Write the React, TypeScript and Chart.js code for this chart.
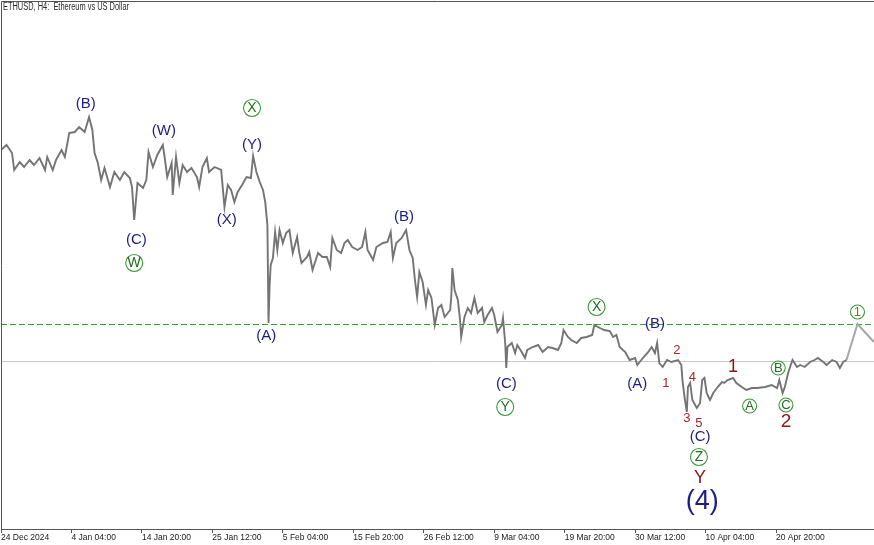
import { useEffect, useRef } from "react";
import { Chart, registerables } from "chart.js";

Chart.register(...registerables);

// H4 bar index counted from 24 Dec 2024 12:00 (6 bars per day)
const barIndex = [
  0, 5, 10, 12, 17, 21, 26, 30, 35, 40, 42, 47, 50, 55, 58, 62, 67, 71, 76, 80,
  83, 85, 88, 91, 94, 99, 103, 108, 112, 117, 119, 121, 124, 129, 132, 134, 138, 142, 147, 149,
  151, 155, 156, 159, 162, 165, 169, 173, 178, 180, 183, 187, 189, 194, 200, 203, 206, 209, 212, 215,
  219, 223, 227, 229, 232, 235, 238, 240, 242, 243, 244, 245, 247, 249, 251, 253, 256, 259, 262, 265,
  269, 271, 273, 278, 280, 283, 288, 292, 296, 299, 301, 305, 309, 312, 315, 319, 324, 328, 331, 333,
  338, 341, 347, 351, 354, 356, 359, 364, 368, 371, 374, 376, 378, 380, 383, 386, 388, 391, 394, 397,
  400, 403, 408, 409, 410, 412, 415, 417, 418, 421, 424, 427, 430, 433, 437, 439, 442, 446, 448, 451,
  455, 456, 458, 459, 460, 464, 467, 469, 473, 476, 478, 483, 488, 492, 497, 501, 506, 509, 511, 515,
  518, 523, 527, 532, 537, 539, 544, 548, 553, 556, 559, 562, 567, 571, 576, 578, 583, 588, 591, 594,
  596, 598, 601, 605, 609, 615, 618, 619, 621, 623, 624, 626, 628, 632, 635, 637, 639, 641, 644, 647,
  651, 655, 657, 660, 665, 668, 673, 677, 682, 687, 694, 700, 705, 707, 710, 712, 715, 718, 719, 723,
  726, 730, 735, 739, 742, 747, 750, 755, 759, 762, 765, 768,
];

const closePrice = [
  3481, 3521, 3457, 3321, 3385, 3345, 3401, 3361, 3417, 3321, 3425, 3321, 3401, 3481, 3425, 3617, 3625, 3665, 3625, 3745,
  3641, 3457, 3377, 3241, 3337, 3185, 3305, 3241, 3305, 3257, 3185, 2921, 3217, 3177, 3241, 3465, 3345, 3441, 3521, 3401,
  3265, 3377, 3121, 3425, 3217, 3361, 3305, 3337, 3265, 3185, 3345, 3417, 3305, 3345, 3321, 3025, 3201, 3161, 3065, 3145,
  3201, 3265, 3257, 3433, 3305, 3225, 3161, 3065, 2881, 2097, 2401, 2561, 2617, 2825, 2681, 2841, 2737, 2817, 2841, 2657,
  2785, 2657, 2577, 2625, 2665, 2521, 2657, 2625, 2625, 2545, 2777, 2681, 2657, 2737, 2761, 2705, 2681, 2705, 2825, 2681,
  2601, 2705, 2737, 2745, 2825, 2617, 2737, 2777, 2841, 2681, 2617, 2441, 2305, 2505, 2425, 2241, 2361, 2297, 2081, 2217,
  2241, 2145, 2201, 2305, 2537, 2361, 2281, 2121, 1985, 2145, 2217, 2177, 2297, 2177, 2217, 2105, 2161, 2217, 2161, 2025,
  2081, 2137, 1937, 1737, 1905, 1937, 1857, 1921, 1865, 1817, 1881, 1905, 1921, 1865, 1905, 1897, 1881, 1937, 2041, 1985,
  1961, 1937, 1977, 1985, 2001, 2081, 2057, 2041, 2033, 1985, 2001, 1905, 1865, 1801, 1817, 1761, 1817, 1865, 1905, 1857,
  1937, 1777, 1745, 1801, 1785, 1801, 1761, 1641, 1497, 1385, 1585, 1617, 1481, 1417, 1457, 1641, 1657, 1537, 1481, 1537,
  1585, 1625, 1617, 1641, 1657, 1617, 1585, 1561, 1577, 1577, 1585, 1601, 1577, 1641, 1537, 1585, 1697, 1777, 1801, 1745,
  1761, 1745, 1785, 1801, 1817, 1785, 1761, 1801, 1785, 1737, 1785, 1801,
];

const forecastIndex = [768, 778, 793];
const forecastPrice = [1801, 2089, 1945];

const tickLabels = [
  "24 Dec 2024", "4 Jan 04:00", "14 Jan 20:00", "25 Jan 12:00", "5 Feb 04:00", "15 Feb 20:00",
  "26 Feb 12:00", "9 Mar 04:00", "19 Mar 20:00", "30 Mar 12:00", "10 Apr 04:00", "20 Apr 20:00",
];
const barsPerTick = 64;

const targetLevel = 2089;
const bidLevel = 1793;

const labelText = [
  "(B)", "(W)", "X", "(Y)", "(X)", "(C)", "W", "(A)", "(B)", "(C)", "Y", "X", "(B)", "(A)",
  "2", "1", "4", "3", "5", "(C)", "Z", "Y", "(4)", "1", "A", "B", "C", "2", "1",
];
const labelBar = [
  77, 148, 228, 228, 205, 123, 121, 241, 366, 459, 458, 541, 594, 578,
  614, 604, 628, 623, 634, 635, 634, 635, 637, 665, 680, 706, 713, 713, 778,
];
const labelPrice = [
  3849, 3633, 3817, 3525, 2921, 2761, 2577, 1993, 2945, 1609, 1425, 2225, 2089, 1609,
  1881, 1617, 1665, 1337, 1297, 1185, 1025, 857, 665, 1745, 1433, 1737, 1441, 1305, 2185,
];
const labelDegree = [
  "minor", "minor", "circle", "minor", "minor", "minor", "circle", "minor", "minor", "minor", "circle", "circle", "minor", "minor",
  "sub", "sub", "sub", "sub", "sub", "minor", "circle", "red", "major", "red", "circleSmall", "circleSmall", "circleSmall", "redBig", "circleNum",
];

const styles: Record<string, any> = {
  minor: { size: 15, color: "#1c1c86" },
  major: { size: 27, color: "#1c1c86" },
  sub: { size: 13, color: "#a3282a" },
  red: { size: 18, color: "#8e1414" },
  redBig: { size: 19, color: "#8e1414" },
  circle: { size: 14, color: "#1f6f1f", ring: "#3a9a3a", r: 8.5 },
  circleSmall: { size: 13, color: "#1f6f1f", ring: "#3a9a3a", r: 7 },
  circleNum: { size: 13, color: "#7a7a10", ring: "#3a9a3a", r: 7 },
};

const FONT = '"Liberation Sans", Arial, sans-serif';

const overlay = {
  id: "overlay",
  beforeDatasetsDraw(chart: any) {
    const { ctx, chartArea: a, scales } = chart;
    const y = scales.y;
    ctx.save();
    ctx.beginPath();
    ctx.rect(a.left, a.top, a.right - a.left, a.bottom - a.top);
    ctx.clip();
    const yb = Math.round(y.getPixelForValue(bidLevel)) + 0.5;
    ctx.strokeStyle = "#c8c8c8";
    ctx.lineWidth = 1;
    ctx.beginPath();
    ctx.moveTo(a.left, yb);
    ctx.lineTo(a.right, yb);
    ctx.stroke();
    const yg = Math.round(y.getPixelForValue(targetLevel)) + 0.5;
    ctx.strokeStyle = "#3a9a3a";
    ctx.setLineDash([6, 3]);
    ctx.beginPath();
    ctx.moveTo(a.left, yg);
    ctx.lineTo(a.right, yg);
    ctx.stroke();
    ctx.restore();
  },
  afterDatasetsDraw(chart: any) {
    const { ctx, scales } = chart;
    const { x, y } = scales;
    ctx.save();
    ctx.textAlign = "center";
    ctx.textBaseline = "middle";
    for (let i = 0; i < labelText.length; i++) {
      const st = styles[labelDegree[i]];
      const px = x.getPixelForValue(labelBar[i]);
      const py = y.getPixelForValue(labelPrice[i]);
      if (st.ring) {
        ctx.beginPath();
        ctx.arc(px, py, st.r, 0, Math.PI * 2);
        ctx.strokeStyle = st.ring;
        ctx.lineWidth = 1.1;
        ctx.stroke();
      }
      ctx.font = `${st.size}px ${FONT}`;
      ctx.fillStyle = st.color;
      ctx.fillText(labelText[i], px, py + (st.ring ? 0.5 : 0));
    }
    ctx.restore();
  },
  afterDraw(chart: any) {
    const { ctx, chartArea: a } = chart;
    ctx.save();
    ctx.strokeStyle = "#555555";
    ctx.lineWidth = 1;
    ctx.beginPath();
    ctx.moveTo(a.left + 0.5, a.bottom);
    ctx.lineTo(a.left + 0.5, a.top + 0.5);
    ctx.lineTo(chart.width, a.top + 0.5);
    ctx.stroke();
    ctx.font = `10px ${FONT}`;
    ctx.fillStyle = "#2a2a2a";
    ctx.textAlign = "left";
    ctx.textBaseline = "middle";
    ctx.fillText("ETHUSD, H4:  Ethereum vs US Dollar", 3, 7.5, 126);
    ctx.restore();
  },
};

export default function App() {
  const ref = useRef<HTMLCanvasElement>(null);
  useEffect(() => {
    if (!ref.current) return;
    const chart = new Chart(ref.current, {
      type: "line",
      data: {
        datasets: [
          {
            data: barIndex.map((b, i) => ({ x: b, y: closePrice[i] })),
            borderColor: "#747474",
            borderWidth: 1.9,
            pointRadius: 0,
            tension: 0,
          },
          {
            data: forecastIndex.map((b, i) => ({ x: b, y: forecastPrice[i] })),
            borderColor: "#a6a6a6",
            borderWidth: 2,
            pointRadius: 0,
            tension: 0,
          },
        ],
      },
      options: {
        animation: false,
        responsive: false,
        devicePixelRatio: 1,
        layout: { padding: { left: 1, top: 1, right: 0, bottom: 0 } },
        plugins: { legend: { display: false }, tooltip: { enabled: false } },
        scales: {
          x: {
            type: "linear",
            min: 0,
            max: 793,
            afterBuildTicks: (s: any) => {
              s.ticks = tickLabels.map((_, i) => ({ value: i * barsPerTick }));
            },
            afterFit: (s: any) => {
              s.height = 16;
            },
            ticks: {
              callback: (v: any) => tickLabels[Math.round(Number(v) / barsPerTick)] ?? "",
              align: "start",
              autoSkip: false,
              maxRotation: 0,
              padding: 0,
              color: "#1a1a1a",
              font: { family: "Liberation Sans", size: 8.5 },
            },
            grid: { drawOnChartArea: false, drawTicks: true, tickLength: 4, color: "#555555", tickColor: "#555555" },
            border: { display: true, color: "#555555", width: 1 },
          },
          y: { display: false, min: 449, max: 4673 },
        },
      },
      plugins: [overlay],
    });
    return () => chart.destroy();
  }, []);
  return (
    <div style={{ position: "fixed", left: 0, top: 0, width: 874, height: 545, background: "#ffffff" }}>
      <canvas ref={ref} width={874} height={545} />
    </div>
  );
}
